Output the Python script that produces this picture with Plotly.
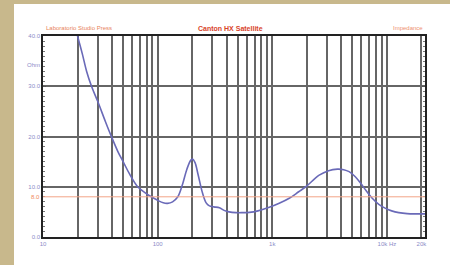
import plotly.graph_objects as go

freq = [20, 22, 24, 26.5, 30, 35, 39.5, 45, 50, 57, 67, 78, 88, 100, 112, 122, 135, 150, 165, 180,
        195, 202, 212, 225, 246, 265, 283, 310, 346, 380, 420, 483, 550, 631, 750, 942, 1150, 1406,
        1700, 1963, 2566, 3100, 3700, 4200, 4680, 5300, 5900, 6600, 7450, 8500, 9740, 11000, 12700,
        15000, 18000, 21500]
ohm = [40, 36.5, 33, 30, 27, 23, 20, 17, 15, 12.5, 10, 8.8, 8.0, 7.3, 6.8, 6.7, 7.0, 8.0, 10.5, 13.5,
       15.3, 15.5, 14.8, 12.5, 8.8, 6.8, 6.2, 6.0, 5.8, 5.3, 5.0, 4.85, 4.85, 4.9, 5.2, 5.9, 6.7, 7.7,
       9.0, 10.0, 12.3, 13.2, 13.5, 13.4, 13.0, 12.0, 10.7, 9.2, 7.7, 6.5, 5.7, 5.2, 4.85,
       4.65, 4.6, 4.6]

x_labels = {10: "10", 100: "100", 1000: "1k", 10000: "10k Hz", 20000: "20k"}
y_ticks = [0, 10, 20, 30, 40]
y_labels = ["0.0", "10.0", "20.0", "30.0", "40.0"]
nominal = 8.0

xgrid = []
for dec in [10, 100, 1000, 10000]:
    for m in range(1, 10):
        v = dec * m
        if v <= 20000:
            xgrid.append(v)
xgrid.append(20000)
xgrid = sorted(set(xgrid))
xtext = [x_labels.get(v, "") for v in xgrid]

label_col = "#8c8cc8"
fig = go.Figure()
fig.add_trace(go.Scatter(x=freq, y=ohm, mode="lines", line=dict(color="#6a6ab8", width=1.6, shape="spline"),
                         hoverinfo="skip"))

fig.update_layout(
    width=450, height=265,
    margin=dict(l=43, r=25, t=36, b=28),
    paper_bgcolor="white", plot_bgcolor="white",
    showlegend=False,
    font=dict(family="Liberation Sans", size=6, color=label_col),
    xaxis=dict(type="log", range=[1, 4.3324], tickvals=xgrid, ticktext=xtext,
               showgrid=True, gridcolor="#666666", gridwidth=1.5,
               showline=True, linecolor="#222", linewidth=1.5, mirror=True,
               ticks="", tickfont=dict(size=6, color=label_col), zeroline=False),
    yaxis=dict(range=[0, 40], tickvals=y_ticks, ticktext=y_labels,
               showgrid=True, gridcolor="#666666", gridwidth=1.5,
               showline=True, linecolor="#222", linewidth=1.5, mirror="allticks",
               ticks="inside", ticklen=3, tickcolor="#555",
               minor=dict(dtick=1, ticks="inside", ticklen=2, tickcolor="#777", showgrid=False),
               tickfont=dict(size=6, color=label_col), zeroline=False),
)

# tan frame around the white card
fig.add_shape(type="rect", xref="paper", yref="paper", x0=(0 - 43) / 382, x1=(14 - 43) / 382,
              y0=(237 - 265) / 201, y1=(237 - 0) / 201, fillcolor="#c8b88c", line_width=0, layer="below")
fig.add_shape(type="rect", xref="paper", yref="paper", x0=(0 - 43) / 382, x1=(450 - 43) / 382,
              y0=(237 - 4) / 201, y1=(237 - 0) / 201, fillcolor="#c8b88c", line_width=0, layer="below")

# nominal impedance line
fig.add_shape(type="line", xref="paper", yref="y", x0=0, x1=1, y0=nominal, y1=nominal,
              line=dict(color="#f2a488", width=1))

fig.add_annotation(xref="paper", yref="y", x=-0.003, y=nominal, text="8.0", showarrow=False,
                   xanchor="right", font=dict(size=6, color="#f08a60"))
fig.add_annotation(xref="paper", yref="paper", x=-0.003, y=(237 - 60) / 201, text="Ohm", showarrow=False,
                   xanchor="right", font=dict(size=6, color=label_col))

fig.add_annotation(xref="paper", yref="paper", x=(44 - 43) / 382, y=(237 - 23) / 201,
                   text="Laboratorio Studio Press", showarrow=False, xanchor="left",
                   font=dict(size=6, color="#e8845c"))
fig.add_annotation(xref="paper", yref="paper", x=(230 - 43) / 382, y=(237 - 23) / 201,
                   text="<b>Canton HX Satellite</b>", showarrow=False, xanchor="center",
                   font=dict(size=7, color="#d8442a"))
fig.add_annotation(xref="paper", yref="paper", x=1.0, y=(237 - 23) / 201,
                   text="Impedance", showarrow=False, xanchor="right",
                   font=dict(size=6, color="#ee9070"))

fig.write_html("out.html", config={"displayModeBar": False},
               post_script="document.body.style.margin='0';document.body.style.overflow='hidden';")
